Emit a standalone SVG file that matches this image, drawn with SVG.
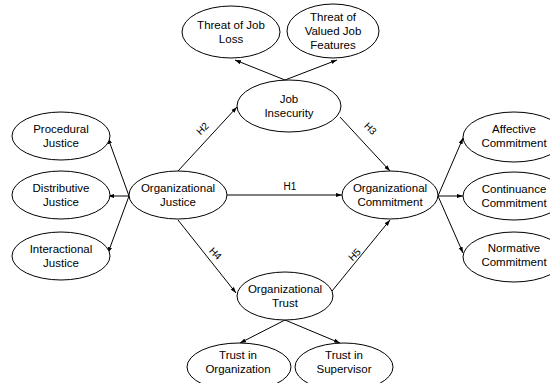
<svg xmlns="http://www.w3.org/2000/svg" width="550" height="383" viewBox="0 0 550 383">
<style>
.n ellipse{fill:#fff;stroke:#000;stroke-width:1}
text{font-family:"Liberation Sans",Arial,sans-serif;font-size:11.5px;fill:#000;text-anchor:middle}
.c line{stroke:#000;stroke-width:1;fill:none}
.lbl{font-size:10px}
</style>
<defs>
<marker id="a" viewBox="0 0 10 10" refX="10" refY="5" markerWidth="6" markerHeight="6" orient="auto" markerUnits="userSpaceOnUse">
<path d="M0,1.5 L10,5 L0,8.5 z" fill="#000"/>
</marker>
</defs>
<rect width="550" height="383" fill="#fff"/>
<g class="c">
<line x1="285" y1="80" x2="235" y2="60" marker-end="url(#a)"/>
<line x1="285" y1="80" x2="337" y2="60" marker-end="url(#a)"/>
<line x1="178" y1="171" x2="237" y2="107" marker-end="url(#a)"/>
<line x1="340" y1="117" x2="390" y2="171" marker-end="url(#a)"/>
<line x1="227" y1="195" x2="342" y2="195" marker-end="url(#a)"/>
<line x1="178" y1="220" x2="236" y2="293" marker-end="url(#a)"/>
<line x1="332" y1="291" x2="390" y2="220" marker-end="url(#a)"/>
<line x1="285" y1="320" x2="240" y2="343" marker-end="url(#a)"/>
<line x1="285" y1="320" x2="340" y2="343" marker-end="url(#a)"/>
<line x1="129" y1="196" x2="108" y2="138" marker-end="url(#a)"/>
<line x1="129" y1="196" x2="108" y2="196" marker-end="url(#a)"/>
<line x1="129" y1="196" x2="108" y2="253" marker-end="url(#a)"/>
<line x1="438" y1="196" x2="463" y2="138" marker-end="url(#a)"/>
<line x1="438" y1="196" x2="463" y2="196" marker-end="url(#a)"/>
<line x1="438" y1="196" x2="463" y2="253" marker-end="url(#a)"/>
<text class="lbl" x="290" y="190">H1</text>
<text class="lbl" transform="translate(205,131) rotate(-45)">H2</text>
<text class="lbl" transform="translate(368,131) rotate(45)">H3</text>
<text class="lbl" transform="translate(213,256) rotate(45)">H4</text>
<text class="lbl" transform="translate(357,257) rotate(-45)">H5</text>
</g>
<g id="threat-job-loss" class="n"><ellipse cx="231" cy="32" rx="49" ry="26"/><text x="231" y="29">Threat of Job</text><text x="231" y="43">Loss</text></g>
<g id="threat-valued" class="n"><ellipse cx="333" cy="31" rx="46" ry="27"/><text x="333" y="21">Threat of</text><text x="333" y="35">Valued Job</text><text x="333" y="49">Features</text></g>
<g id="job-insecurity" class="n"><ellipse cx="289" cy="106" rx="52" ry="26"/><text x="289" y="103">Job</text><text x="289" y="117">Insecurity</text></g>
<g id="procedural" class="n"><ellipse cx="61" cy="136" rx="49" ry="24"/><text x="61" y="133">Procedural</text><text x="61" y="147">Justice</text></g>
<g id="distributive" class="n"><ellipse cx="61" cy="195" rx="49" ry="24"/><text x="61" y="192">Distributive</text><text x="61" y="206">Justice</text></g>
<g id="interactional" class="n"><ellipse cx="61" cy="256" rx="49" ry="24"/><text x="61" y="253">Interactional</text><text x="61" y="267">Justice</text></g>
<g id="org-justice" class="n"><ellipse cx="178" cy="195" rx="49" ry="24"/><text x="178" y="192">Organizational</text><text x="178" y="206">Justice</text></g>
<g id="org-commitment" class="n"><ellipse cx="390" cy="195" rx="48" ry="24"/><text x="390" y="192">Organizational</text><text x="390" y="206">Commitment</text></g>
<g id="affective" class="n"><ellipse cx="514" cy="137" rx="51" ry="25"/><text x="514" y="133">Affective</text><text x="514" y="147">Commitment</text></g>
<g id="continuance" class="n"><ellipse cx="514" cy="196" rx="51" ry="24"/><text x="514" y="193">Continuance</text><text x="514" y="207">Commitment</text></g>
<g id="normative" class="n"><ellipse cx="514" cy="257" rx="51" ry="25"/><text x="514" y="252">Normative</text><text x="514" y="266">Commitment</text></g>
<g id="org-trust" class="n"><ellipse cx="285" cy="296" rx="48" ry="24"/><text x="285" y="293">Organizational</text><text x="285" y="307">Trust</text></g>
<g id="trust-org" class="n"><ellipse cx="239" cy="367" rx="52" ry="24"/><text x="238" y="359">Trust in</text><text x="238" y="373">Organization</text></g>
<g id="trust-sup" class="n"><ellipse cx="344" cy="367" rx="49" ry="24"/><text x="344" y="359">Trust in</text><text x="344" y="373">Supervisor</text></g>
</svg>
